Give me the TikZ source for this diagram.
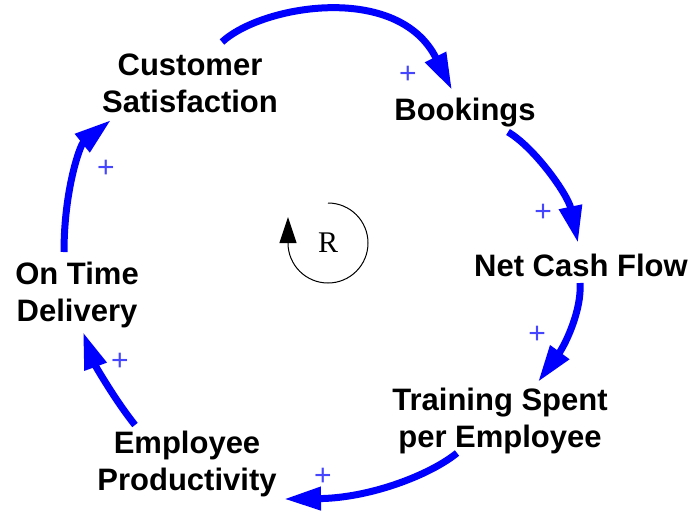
\documentclass[tikz,border=0pt]{standalone}
\usepackage{fontspec}
\setmainfont{Liberation Sans}
\newfontfamily\serifR{Liberation Serif}
\usetikzlibrary{arrows.meta}
\definecolor{linkblue}{RGB}{0,0,255}
\definecolor{plusblue}{RGB}{70,70,255}
\begin{document}
\begin{tikzpicture}[x=1pt,y=-1pt,
  var/.style={font=\fontsize{31}{37}\selectfont\bfseries, align=center, inner sep=0pt, text=black},
  link/.style={draw=linkblue, line width=7pt, -{Triangle[length=37pt,width=22pt]}},
  pol/.style={font=\fontsize{30}{30}\selectfont, text=plusblue, inner sep=0pt},
  loopsym/.style={draw=black, line width=1pt, -{Triangle[length=26pt,width=17pt]}}
]
\path[use as bounding box] (0,0) rectangle (692,512);

\node[var] (cs) at (190,83) {Customer\\Satisfaction};
\node[var] (bk) at (465,113) {Bookings};
\node[var] (ncf) at (581,265) {Net Cash Flow};
\node[var] (ts) at (500,421) {Training Spent\\per Employee};
\node[var] (ep) at (187,464) {Employee\\Productivity};
\node[var] (otd) at (77,295) {On Time\\Delivery};

\draw[link] ([shift={(32,-41)}]cs.center) .. controls (262,5) and (398,-18) .. ([shift={(-13,-23)}]bk.center);
\draw[link] ([shift={(43,19)}]bk.center) .. controls (535,148) and (568,195) .. ([shift={(-3,-22)}]ncf.center);
\draw[link] ([shift={(-1,18)}]ncf.center) .. controls (582,310) and (565,345) .. ([shift={(38,-39)}]ts.center);
\draw[link] ([shift={(-43,32)}]ts.center) .. controls (430,475) and (370,498) .. ([shift={(97,35)}]ep.center);
\draw[link] ([shift={(-52,-39)}]ep.center) .. controls (115,400) and (95,365) .. ([shift={(6,37)}]otd.center);
\draw[link] ([shift={(-13,-43)}]otd.center) .. controls (64,190) and (80,145) .. ([shift={(-79,37)}]cs.center);

\node[pol] (p1) at (408,75) {+};
\node[pol] (p2) at (543,213) {+};
\node[pol] (p3) at (537,335) {+};
\node[pol] (p4) at (323,477) {+};
\node[pol] (p5) at (120,362) {+};
\node[pol] (p6) at (106,169) {+};

\node[font=\serifR\fontsize{30}{30}\selectfont, inner sep=0pt] (loopR) at (328,243) {R};
\draw[loopsym] ([shift={(0,-40)}]loopR.center) arc[start angle=90,end angle=-180,radius=40pt] -- ++(0,-26);
\end{tikzpicture}
\end{document}
